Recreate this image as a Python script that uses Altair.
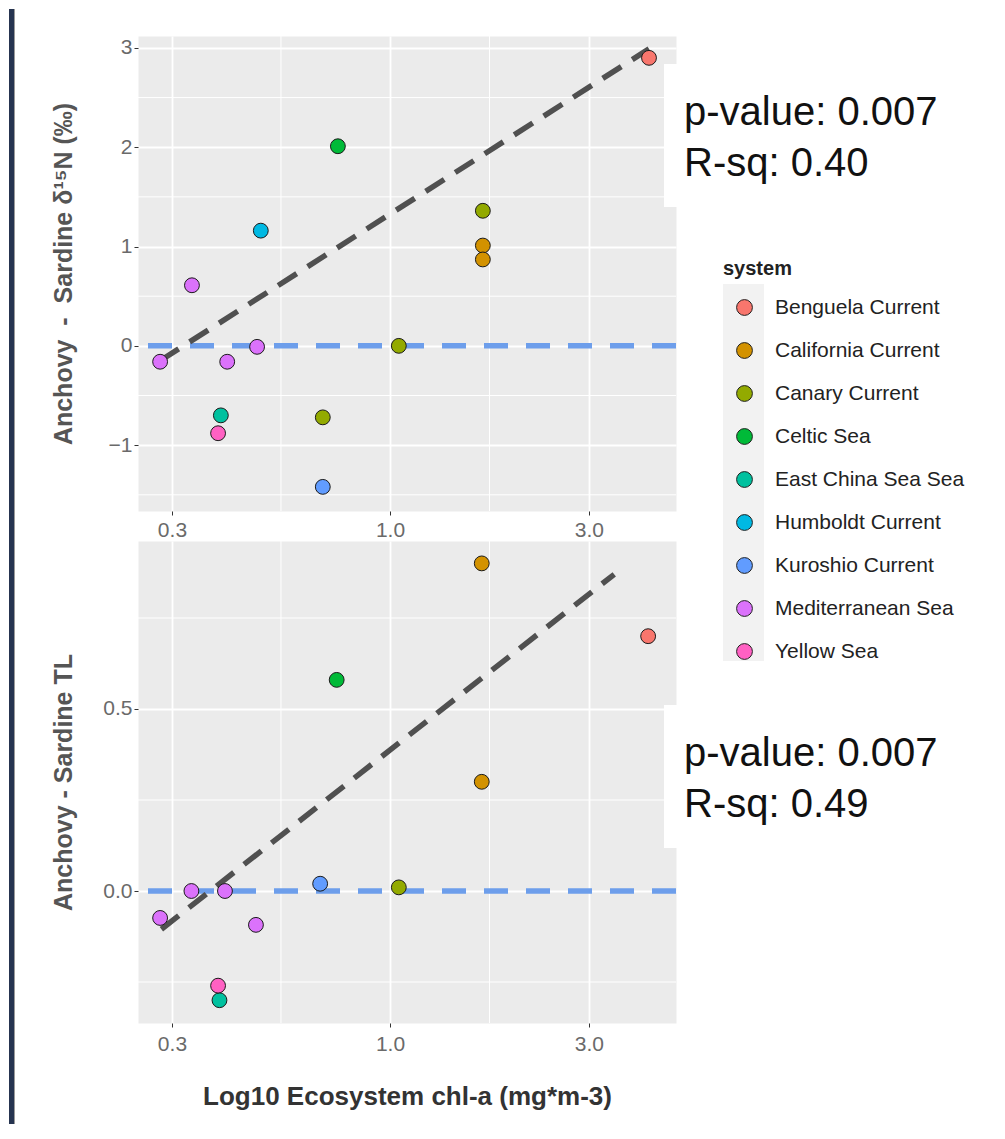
import altair as alt
import pandas as pd

# ---------------- data ----------------
systems = ["Benguela Current", "California Current", "Canary Current", "Celtic Sea",
           "East China Sea Sea", "Humboldt Current", "Kuroshio Current",
           "Mediterranean Sea", "Yellow Sea"]
colors = ["#F8766D", "#D39200", "#93AA00", "#00BA38", "#00C19F",
          "#00B9E3", "#619CFF", "#DB72FB", "#FF61C3"]

top_system = ["Benguela Current", "California Current", "California Current",
              "Canary Current", "Canary Current", "Canary Current", "Celtic Sea",
              "East China Sea Sea", "Humboldt Current", "Kuroshio Current",
              "Mediterranean Sea", "Mediterranean Sea", "Mediterranean Sea",
              "Mediterranean Sea", "Yellow Sea"]
top_chl = [4.18, 1.67, 1.67, 1.67, 1.05, 0.69, 0.75, 0.393, 0.49, 0.69,
           0.335, 0.281, 0.407, 0.48, 0.387]
top_d15n = [2.90, 1.01, 0.87, 1.36, 0.00, -0.72, 2.01, -0.70, 1.16, -1.42,
            0.61, -0.16, -0.16, -0.01, -0.88]

bot_system = ["Benguela Current", "California Current", "California Current",
              "Canary Current", "Celtic Sea", "East China Sea Sea", "Kuroshio Current",
              "Mediterranean Sea", "Mediterranean Sea", "Mediterranean Sea",
              "Mediterranean Sea", "Yellow Sea"]
bot_chl = [4.16, 1.66, 1.66, 1.05, 0.745, 0.39, 0.68, 0.334, 0.402, 0.281, 0.477, 0.387]
bot_tl = [0.70, 0.90, 0.30, 0.01, 0.58, -0.30, 0.02, 0.0, 0.0, -0.074, -0.093, -0.26]

top_fit_chl = [0.281, 4.18]
top_fit_val = [-0.15, 2.99]
bot_fit_chl = [0.283, 3.45]
bot_fit_val = [-0.105, 0.87]

x_ticks = [0.3, 1.0, 3.0]
x_minor = [0.5477, 1.732]
top_y_ticks = [-1, 0, 1, 2, 3]
top_y_minor = [-1.5, -0.5, 0.5, 1.5, 2.5]
bot_y_ticks = [0.0, 0.5]
bot_y_minor = [-0.25, 0.25, 0.75]
zero_line = [0]

top_stats = ["p-value: 0.007", "R-sq: 0.40"]
bot_stats = ["p-value: 0.007", "R-sq: 0.49"]

top_y_title = "Anchovy\u00a0\u00a0-\u00a0\u00a0Sardine \u03b4\u00b9\u2075N (\u2030)"
bot_y_title = "Anchovy - Sardine TL"
x_title = "Log10 Ecosystem chl-a (mg*m-3)"

X_DOMAIN = [0.2487, 4.852]
TOP_Y_DOMAIN = [-1.663, 3.12]
BOT_Y_DOMAIN = [-0.3626, 0.9615]

FONT = "Liberation Sans"
W = 538
H_TOP = 475
H_BOT = 482


def panel(pts, fit, y_ticks, y_minor, y_domain, y_fmt, y_title, height,
          stats, box_y, xt, label_pad, extras):
    X = alt.X("chl:Q",
              scale=alt.Scale(type="log", domain=X_DOMAIN, nice=False),
              axis=alt.Axis(values=x_ticks, format=".1f", title=xt,
                            labelPadding=label_pad, titleY=73,
                            titleBaseline="middle"))
    Y = alt.Y("val:Q",
              scale=alt.Scale(domain=y_domain, nice=False, zero=False),
              axis=alt.Axis(values=y_ticks, format=y_fmt, title=y_title,
                            titleX=-75, titleAngle=270, titleBaseline="middle"))

    vminor = alt.Chart(pd.DataFrame({"chl": x_minor})).mark_rule(
        color="white", strokeWidth=1).encode(x=X)
    hminor = alt.Chart(pd.DataFrame({"val": y_minor})).mark_rule(
        color="white", strokeWidth=1).encode(y=Y)
    zero = alt.Chart(pd.DataFrame({"val": zero_line})).mark_rule(
        color="#6D9EEB", strokeWidth=5.5, strokeDash=[24, 18]).encode(y=Y)
    fitl = alt.Chart(fit).mark_line(
        color="#505050", strokeWidth=5.5, strokeDash=[22, 13]).encode(x=X, y=Y)
    points = alt.Chart(pts).mark_circle(
        size=220, opacity=1, stroke="#1a1a1a", strokeWidth=1).encode(
        x=X, y=Y,
        color=alt.Color("system:N",
                        scale=alt.Scale(domain=systems, range=colors),
                        legend=alt.Legend(title="system", orient="none",
                                          legendX=585, legendY=223)))
    one = pd.DataFrame({"k": [0]})
    box = alt.Chart(one).mark_rect(color="white").encode(
        x=alt.value(526), x2=alt.value(575),
        y=alt.value(box_y), y2=alt.value(box_y + 143))
    txt = alt.Chart(one).mark_text(
        text=stats, align="left", baseline="alphabetic", fontSize=40,
        lineHeight=51, font=FONT, color="#111111").encode(
        x=alt.value(546), y=alt.value(box_y + 61))
    layers = [vminor, hminor] + extras + [zero, fitl, points, box, txt]
    return alt.layer(*layers).properties(width=W, height=height)


one = pd.DataFrame({"k": [0]})
band = alt.Chart(one).mark_rect(color="#263450").encode(
    x=alt.value(-129), x2=alt.value(-124), y=alt.value(-27), y2=alt.value(1088))
band_line = alt.Chart(one).mark_rect(color="#9a9a9a").encode(
    x=alt.value(-124), x2=alt.value(-123), y=alt.value(-27), y2=alt.value(1088))
key_bg = alt.Chart(one).mark_rect(color="#F2F2F2").encode(
    x=alt.value(585), x2=alt.value(626), y=alt.value(248), y2=alt.value(625))

top_df = pd.DataFrame({"system": top_system, "chl": top_chl, "val": top_d15n})
bot_df = pd.DataFrame({"system": bot_system, "chl": bot_chl, "val": bot_tl})
top_fit = pd.DataFrame({"chl": top_fit_chl, "val": top_fit_val})
bot_fit = pd.DataFrame({"chl": bot_fit_chl, "val": bot_fit_val})

top = panel(top_df, top_fit, top_y_ticks, top_y_minor, TOP_Y_DOMAIN, "d",
            top_y_title, H_TOP, top_stats, 28, "", 4, [band, band_line, key_bg])
bot = panel(bot_df, bot_fit, bot_y_ticks, bot_y_minor, BOT_Y_DOMAIN, ".1f",
            bot_y_title, H_BOT, bot_stats, 164, x_title, 6, [])

chart = alt.vconcat(top, bot, spacing=30, bounds="flush").properties(
    padding={"left": 0, "top": 0, "right": 5, "bottom": 0},
    background="white"
).configure_view(
    fill="#EBEBEB", stroke="transparent"
).configure_axis(
    grid=True, gridColor="white", gridWidth=1.8, domain=False,
    tickColor="#333333", tickSize=4, tickWidth=1,
    labelFont=FONT, labelFontSize=21, labelColor="#6a6a6a", labelPadding=2,
    titleFont=FONT, titleFontSize=25, titleFontWeight="bold", titleColor="#555555"
).configure_axisX(
    titleColor="#333333", titleFontSize=26
).configure_legend(
    titleFont=FONT, titleFontSize=20, titleFontWeight="bold", titleColor="#222222",
    labelFont=FONT, labelFontSize=21, labelColor="#222222", labelLimit=400,
    symbolType="circle", symbolSize=250, symbolStrokeColor="#222222",
    symbolStrokeWidth=1, rowPadding=21, labelOffset=20, symbolOffset=11,
    titlePadding=18, padding=0
)

chart.save("out.html", embed_options={"renderer": "svg", "actions": False})
